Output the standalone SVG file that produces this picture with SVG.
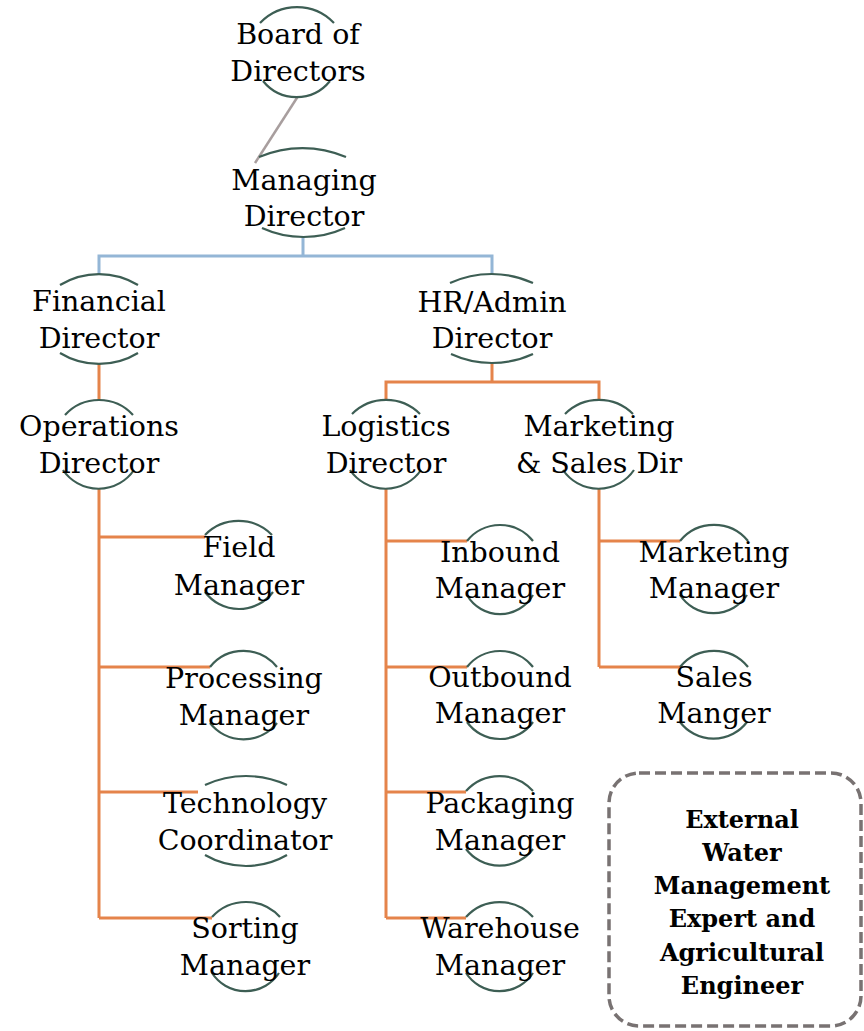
<svg xmlns="http://www.w3.org/2000/svg" width="864" height="1031" viewBox="0 0 864 1031">
<style>
.t{font-family:"DejaVu Serif","Liberation Serif",serif;font-size:28.5px;fill:#000;text-anchor:middle}
.b{font-family:"DejaVu Serif","Liberation Serif",serif;font-size:24px;font-weight:bold;fill:#000;text-anchor:middle}
.arc{fill:none;stroke:#3d5e54;stroke-width:2.2}
.or{fill:none;stroke:#e5844b;stroke-width:3}
.bl{fill:none;stroke:#94b6d6;stroke-width:3}
.gr{fill:none;stroke:#a89e9e;stroke-width:2.5}
</style>
<rect width="864" height="1031" fill="#fff"/>
<g id="connectors">
<path class="gr" d="M297.5 97 L255 163"/>
<path class="bl" d="M303 237 V256 M99 274 V256 H492 V274"/>
<path class="or" d="M99 364 V400 M492 363 V382 M386 400 V382 H599 V400"/>
<path class="or" d="M99 489 V918 M99 537 H205 M99 667 H210 M99 792 H198 M99 918 H212"/>
<path class="or" d="M386 489 V918 M386 541 H467 M386 667 H467 M386 792 H466 M386 918 H466"/>
<path class="or" d="M599 489 V667 M599 541 H680 M599 667 H680"/>
</g>
<g id="board">
<path class="arc" d="M260 23 A51 51 0 0 1 334 23 M263 81 A43 43 0 0 0 330 81"/>
<text class="t" x="298" y="44">Board of</text>
<text class="t" x="298" y="81">Directors</text>
</g>
<g id="managing">
<path class="arc" d="M259 157 A110 110 0 0 1 346 157 M262 228 A100 100 0 0 0 345 228"/>
<text class="t" x="304" y="190">Managing</text>
<text class="t" x="304" y="226">Director</text>
</g>
<g id="financial">
<path class="arc" d="M60 285 A75 75 0 0 1 138 285 M60 353 A75 75 0 0 0 138 353"/>
<text class="t" x="99" y="311">Financial</text>
<text class="t" x="99" y="348">Director</text>
</g>
<g id="hradmin">
<path class="arc" d="M450 283 A100 100 0 0 1 533 283 M451 354 A98 98 0 0 0 533 354"/>
<text class="t" x="492" y="312">HR/Admin</text>
<text class="t" x="492" y="348">Director</text>
</g>
<g id="operations">
<path class="arc" d="M65 415 A46 46 0 0 1 133 415 M63 470 A43 43 0 0 0 134 470"/>
<text class="t" x="99" y="436">Operations</text>
<text class="t" x="99" y="473">Director</text>
</g>
<g id="logistics">
<path class="arc" d="M352 414 A48 48 0 0 1 420 414 M350 470 A43 43 0 0 0 421 470"/>
<text class="t" x="386" y="436">Logistics</text>
<text class="t" x="386" y="473">Director</text>
</g>
<g id="marketingsales">
<path class="arc" d="M565 414 A48 48 0 0 1 633 414 M563 470 A43 43 0 0 0 634 470"/>
<text class="t" x="599" y="436">Marketing</text>
<text class="t" x="599" y="473">&amp; Sales Dir</text>
</g>
<g id="field">
<path class="arc" d="M205 535 A47 47 0 0 1 272 535 M205 592 A42.5 42.5 0 0 0 273 592"/>
<text class="t" x="239" y="557">Field</text>
<text class="t" x="239" y="595">Manager</text>
</g>
<g id="processing">
<path class="arc" d="M210 667 A43 43 0 0 1 277 667 M210 723 A42.5 42.5 0 0 0 277 723"/>
<text class="t" x="244" y="688">Processing</text>
<text class="t" x="244" y="725">Manager</text>
</g>
<g id="technology">
<path class="arc" d="M205 785 A98 98 0 0 1 287 785 M205 855 A82 82 0 0 0 287 855"/>
<text class="t" x="245" y="813">Technology</text>
<text class="t" x="245" y="850">Coordinator</text>
</g>
<g id="sorting">
<path class="arc" d="M212 917 A46 46 0 0 1 280 917 M212 973 A40 40 0 0 0 279 973"/>
<text class="t" x="245" y="938">Sorting</text>
<text class="t" x="245" y="975">Manager</text>
</g>
<g id="inbound">
<path class="arc" d="M467 541 A42 42 0 0 1 533 541 M467 595 A38 38 0 0 0 533 595"/>
<text class="t" x="500" y="562">Inbound</text>
<text class="t" x="500" y="598">Manager</text>
</g>
<g id="outbound">
<path class="arc" d="M467 667 A42 42 0 0 1 533 667 M467 722 A40.5 40.5 0 0 0 533 722"/>
<text class="t" x="500" y="687">Outbound</text>
<text class="t" x="500" y="723">Manager</text>
</g>
<g id="packaging">
<path class="arc" d="M466 791 A45 45 0 0 1 533 791 M466 849 A42 42 0 0 0 533 849"/>
<text class="t" x="500" y="813">Packaging</text>
<text class="t" x="500" y="850">Manager</text>
</g>
<g id="warehouse">
<path class="arc" d="M466 917 A45 45 0 0 1 533 917 M466 973 A40 40 0 0 0 533 973"/>
<text class="t" x="500" y="938">Warehouse</text>
<text class="t" x="500" y="975">Manager</text>
</g>
<g id="marketingmgr">
<path class="arc" d="M680 541 A44 44 0 0 1 748 541 M680 595 A40 40 0 0 0 747 595"/>
<text class="t" x="714" y="562">Marketing</text>
<text class="t" x="714" y="598">Manager</text>
</g>
<g id="sales">
<path class="arc" d="M680 667 A44 44 0 0 1 748 667 M680 722 A42 42 0 0 0 747 722"/>
<text class="t" x="714" y="687">Sales</text>
<text class="t" x="714" y="723">Manger</text>
</g>
<g id="external">
<rect x="609" y="773" width="252" height="253" rx="30" fill="none" stroke="#787272" stroke-width="3.5" stroke-dasharray="11 5"/>
<text class="b" x="742" y="828">External</text>
<text class="b" x="742" y="861">Water</text>
<text class="b" x="742" y="894">Management</text>
<text class="b" x="742" y="927">Expert and</text>
<text class="b" x="742" y="961">Agricultural</text>
<text class="b" x="742" y="994">Engineer</text>
</g>
</svg>
